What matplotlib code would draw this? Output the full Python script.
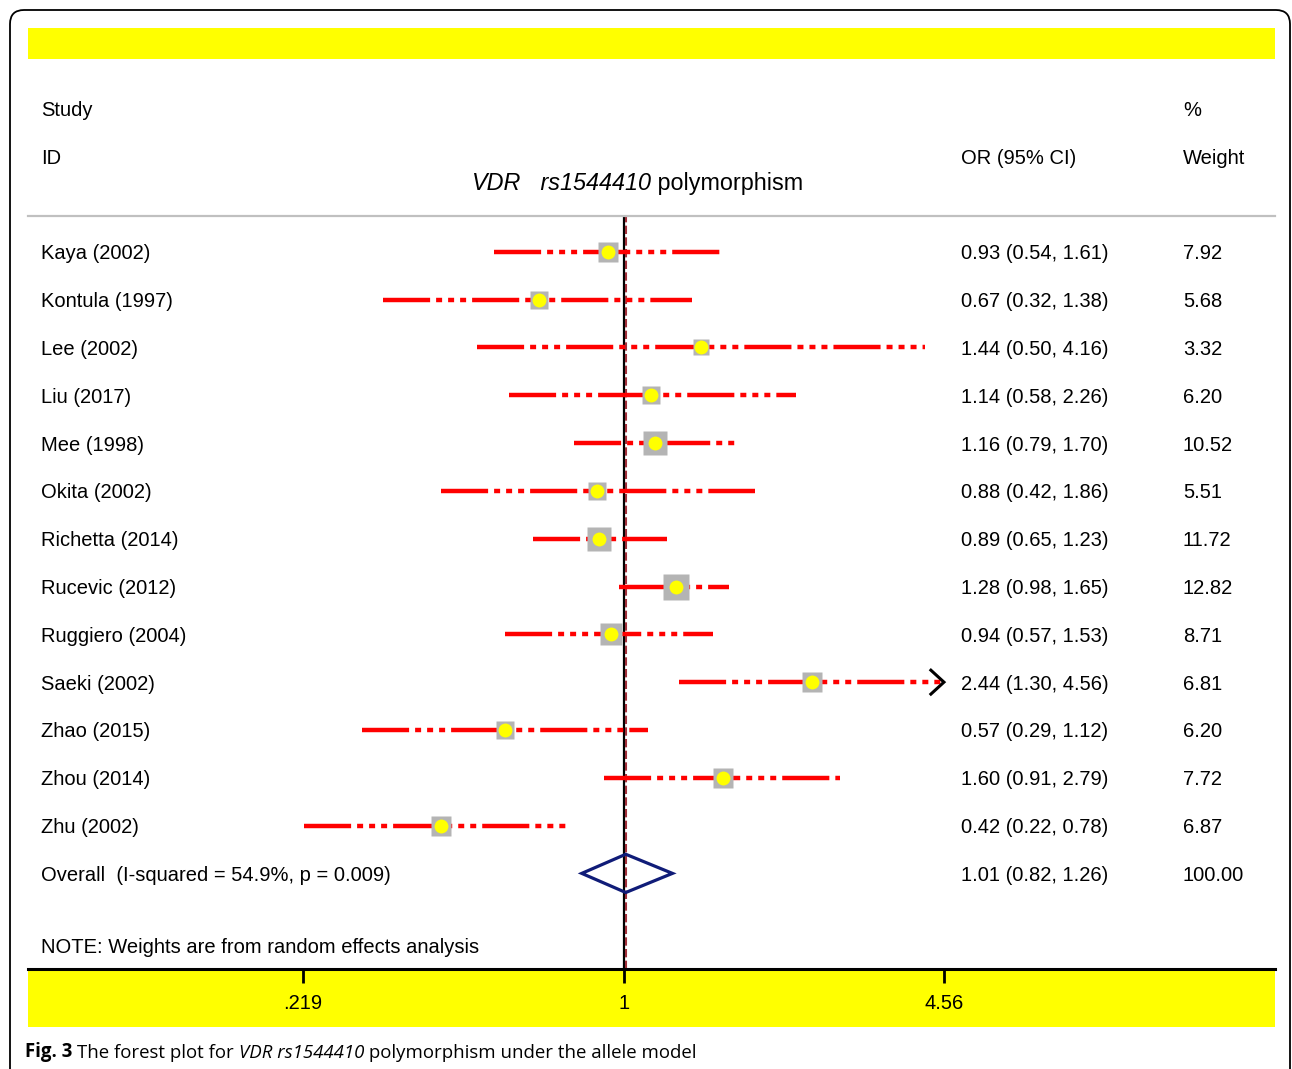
import numpy as np
import matplotlib
matplotlib.use("Agg")
import matplotlib.pyplot as plt
from matplotlib.patches import FancyBboxPatch, Rectangle, Polygon
from matplotlib.transforms import blended_transform_factory, ScaledTranslation

plt.rcParams['font.family'] = ['Liberation Sans', 'DejaVu Sans']

# Study-level results (allele model)
studies = ["Kaya (2002)", "Kontula (1997)", "Lee (2002)", "Liu (2017)", "Mee (1998)",
           "Okita (2002)", "Richetta (2014)", "Rucevic (2012)", "Ruggiero (2004)",
           "Saeki (2002)", "Zhao (2015)", "Zhou (2014)", "Zhu (2002)"]
odds = [0.93, 0.67, 1.44, 1.14, 1.16, 0.88, 0.89, 1.28, 0.94, 2.44, 0.57, 1.60, 0.42]
ci_low = [0.54, 0.32, 0.50, 0.58, 0.79, 0.42, 0.65, 0.98, 0.57, 1.30, 0.29, 0.91, 0.22]
ci_high = [1.61, 1.38, 4.16, 2.26, 1.70, 1.86, 1.23, 1.65, 1.53, 4.56, 1.12, 2.79, 0.78]
weights = [7.92, 5.68, 3.32, 6.20, 10.52, 5.51, 11.72, 12.82, 8.71, 6.81, 6.20, 7.72, 6.87]

overall_or, overall_lo, overall_hi = 1.01, 0.82, 1.26
i_squared, p_het = 54.9, 0.009
xticks = [0.219, 1, 4.56]
xtick_labels = [".219", "1", "4.56"]

W, H = 1292, 1069
fig = plt.figure(figsize=(W / 100, H / 100), dpi=100)


def chain(axes, x, y, pieces, transform, **kw):
    """Write text pieces one after another, each with its own style."""
    prev = None
    for txt, style in pieces:
        if prev is None:
            prev = axes.text(x, y, txt, transform=transform, ha="left", va="center", **style, **kw)
        else:
            prev = axes.annotate(txt, xy=(1, 0), xycoords=prev, ha="left", va="bottom",
                                 **style, **kw)
    return prev


# background canvas in pixel units for the frame, bands and caption
bg = fig.add_axes([0, 0, 1, 1], zorder=0)
bg.set_xlim(0, W)
bg.set_ylim(H, 0)
bg.axis("off")
bg.add_patch(FancyBboxPatch((10, 10), 1280, 1090, boxstyle="round,pad=0,rounding_size=14",
                            fc="white", ec="black", lw=1.3))
bg.add_patch(Rectangle((28, 28), 1247, 31, fc="#ffff00", ec="none"))
bg.add_patch(Rectangle((28, 969), 1247, 58, fc="#ffff00", ec="none"))
chain(bg, 25, 1052,
      [("Fig. 3 ", dict(fontweight="bold")),
       ("The forest plot for ", {}),
       ("VDR rs1544410", dict(style="italic")),
       (" polymorphism under the allele model", {})],
      bg.transData, fontsize=13.4, family="Open Sans")

# forest plot panel
left, right, top, bottom = 28, 1275, 216, 969
ax = fig.add_axes([left / W, 1 - bottom / H, (right - left) / W, (bottom - top) / H], zorder=1)
ax.patch.set_alpha(0)
ax.set_xscale("log")
ax.set_xlim(0.0595, 21.88)
ax.set_ylim(15, -0.75)
for s in ("left", "right"):
    ax.spines[s].set_visible(False)
ax.spines["top"].set_color("#c0c0c0")
ax.spines["top"].set_linewidth(1.6)
ax.spines["bottom"].set_linewidth(2.2)
ax.set_yticks([])
ax.set_xticks(xticks)
ax.set_xticklabels(xtick_labels)
ax.xaxis.set_minor_locator(matplotlib.ticker.NullLocator())
ax.tick_params(axis="x", direction="out", length=10, width=2, labelsize=14.5, pad=8)

rows = np.arange(len(studies))
ax.axvline(1, color="black", lw=1.6, zorder=2)
ax.axvline(overall_or, color="#a0303a", lw=1.5, ls=(0, (4, 1.6)), zorder=2)

dash = (0, (10.6, 1.35, 1.35, 1.35, 1.35, 1.35, 1.35, 1.35))
for r, o, lo, hi, w in zip(rows, odds, ci_low, ci_high, weights):
    ax.plot([lo, hi], [r, r], color="red", lw=3.2, ls=dash, zorder=3)
    side_px = 4.7 + 5.7 * np.sqrt(w)
    ax.plot(o, r, marker="s", ms=side_px * 0.72, color="#b4b4b4", mec="none", zorder=4)
    ax.plot(o, r, marker="o", ms=10, color="#ffff00", mec="none", zorder=5)
    if hi >= xticks[-1]:
        ax.plot([hi * 0.94, hi, hi * 0.94], [r - 0.25, r, r + 0.25], color="black", lw=2.2,
                zorder=5, solid_joinstyle="miter")

n = len(studies)
ax.add_patch(Polygon([(overall_lo, n), (overall_or, n - 0.4), (overall_hi, n), (overall_or, n + 0.4)],
                     closed=True, fill=False, ec="#101c78", lw=2.3, zorder=5))

# text columns
tr = blended_transform_factory(ax.transAxes, ax.transData) + \
    ScaledTranslation(0, -2 / 100, fig.dpi_scale_trans)
x_id, x_or, x_w = (41 - left) / (right - left), (961 - left) / (right - left), (1183 - left) / (right - left)
fs = 14.5
for r, name, o, lo, hi, w in zip(rows, studies, odds, ci_low, ci_high, weights):
    ax.text(x_id, r, name, transform=tr, fontsize=fs, va="center")
    ax.text(x_or, r, f"{o:.2f} ({lo:.2f}, {hi:.2f})", transform=tr, fontsize=fs, va="center")
    ax.text(x_w, r, f"{w:.2f}", transform=tr, fontsize=fs, va="center")
ax.text(x_id, n, f"Overall  (I-squared = {i_squared}%, p = {p_het:.3f})", transform=tr, fontsize=fs, va="center")
ax.text(x_or, n, f"{overall_or:.2f} ({overall_lo:.2f}, {overall_hi:.2f})", transform=tr, fontsize=fs, va="center")
ax.text(x_w, n, "100.00", transform=tr, fontsize=fs, va="center")
ax.text(x_id, 14.5, "NOTE: Weights are from random effects analysis", transform=tr, fontsize=fs, va="center")

# header
ax.text(x_id, -3, "Study", transform=tr, fontsize=fs, va="center")
ax.text(x_id, -2, "ID", transform=tr, fontsize=fs, va="center")
ax.text(x_or, -2, "OR (95% CI)", transform=tr, fontsize=fs, va="center")
ax.text(x_w, -3, "%", transform=tr, fontsize=fs, va="center")
ax.text(x_w, -2, "Weight", transform=tr, fontsize=fs, va="center")
chain(ax, (472 - left) / (right - left), -1.47,
      [("VDR", dict(style="italic")),
       ("   rs1544410", dict(style="italic")),
       (" polymorphism", {})],
      tr, fontsize=16.8)

fig.savefig("out.png", dpi=100)
